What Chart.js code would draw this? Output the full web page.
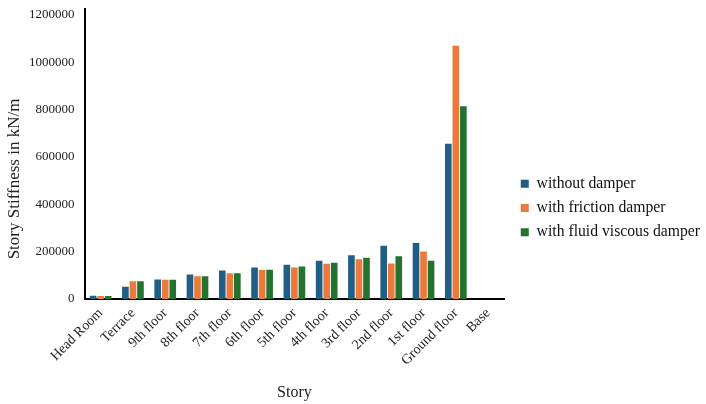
<!DOCTYPE html>
<html>
<head>
<meta charset="utf-8">
<script src="https://cdn.jsdelivr.net/npm/chart.js@4/dist/chart.umd.min.js"></script>
<style>
  html, body { margin: 0; padding: 0; background: #fff; }
  #wrap { width: 706px; height: 404px; }
</style>
</head>
<body>
<div id="wrap"><canvas id="chart"></canvas></div>
<script>
// --- Data ---
const stories = ["Head Room", "Terrace", "9th floor", "8th floor", "7th floor", "6th floor", "5th floor",
  "4th floor", "3rd floor", "2nd floor", "1st floor", "Ground floor", "Base"];
const withoutDamper  = [14000, 52000, 82000, 103000, 120000, 133000, 145000, 161000, 185000, 225000, 236000, 656000, 0];
const frictionDamper = [13000, 75000, 81000, 96000, 109000, 122000, 133000, 149000, 168000, 150000, 201000, 1070000, 0];
const viscousDamper  = [12000, 75000, 81000, 96000, 109000, 123000, 137000, 153000, 174000, 180000, 161000, 814000, 0];
const yTicks = [0, 200000, 400000, 600000, 800000, 1000000, 1200000];
const yTitle = "Story Stiffness in kN/m";

const serif = "'Liberation Serif', 'Times New Roman', serif";
Chart.defaults.font.family = serif;
Chart.defaults.color = "#222";

const makeSet = (label, data, color) => ({
  label, data, backgroundColor: color, borderWidth: 0,
  barPercentage: 0.88, categoryPercentage: 0.7
});

// y title sits a bit below the axis middle in the original, so draw it by hand
const yTitlePlugin = {
  id: "yTitle",
  afterDraw(chart) {
    const { ctx, chartArea } = chart;
    ctx.save();
    ctx.translate(15, (chartArea.top + chartArea.bottom) / 2 + 25);
    ctx.rotate(-Math.PI / 2);
    ctx.font = "17px " + serif;
    ctx.fillStyle = "#222";
    ctx.textAlign = "center";
    ctx.textBaseline = "middle";
    ctx.fillText(yTitle, 0, 0);
    ctx.restore();
  }
};

// legend sits a little further right and lower than Chart.js puts it
const legendNudge = {
  id: "legendNudge",
  afterLayout(chart) {
    const lg = chart.legend;
    if (!lg) return;
    lg.left += 8; lg.right += 8;
    lg.top += 6; lg.bottom += 6;
  }
};

new Chart(document.getElementById("chart"), {
  type: "bar",
  data: {
    labels: stories,
    datasets: [
      makeSet("without damper", withoutDamper, "#205e86"),
      makeSet("with friction damper", frictionDamper, "#eb7a3c"),
      makeSet("with fluid viscous damper", viscousDamper, "#23732f")
    ]
  },
  options: {
    responsive: true,
    maintainAspectRatio: false,
    animation: false,
    layout: { padding: { top: 0, right: 4, bottom: 0, left: 19 } },
    plugins: {
      tooltip: { enabled: false },
      legend: {
        position: "right",
        maxWidth: 210,
        labels: { boxWidth: 8, boxHeight: 8, padding: 8.5, font: { size: 15.7 }, color: "#111" }
      }
    },
    scales: {
      x: {
        grid: { display: false, drawTicks: false },
        border: { color: "#000", width: 2 },
        ticks: { minRotation: 45, maxRotation: 45, padding: 6, font: { size: 14 } },
        title: { display: true, text: "Story", font: { size: 16 }, padding: { top: 8, bottom: 2 } }
      },
      y: {
        min: 0,
        max: 1225000,
        grid: { display: false, drawTicks: false },
        border: { color: "#000", width: 2 },
        afterBuildTicks: axis => { axis.ticks = yTicks.map(v => ({ value: v })); },
        afterFit: axis => { axis.paddingTop = 9; },
        ticks: { padding: 10, font: { size: 13 }, callback: v => String(v) }
      }
    }
  },
  plugins: [yTitlePlugin, legendNudge]
});
</script>
</body>
</html>
